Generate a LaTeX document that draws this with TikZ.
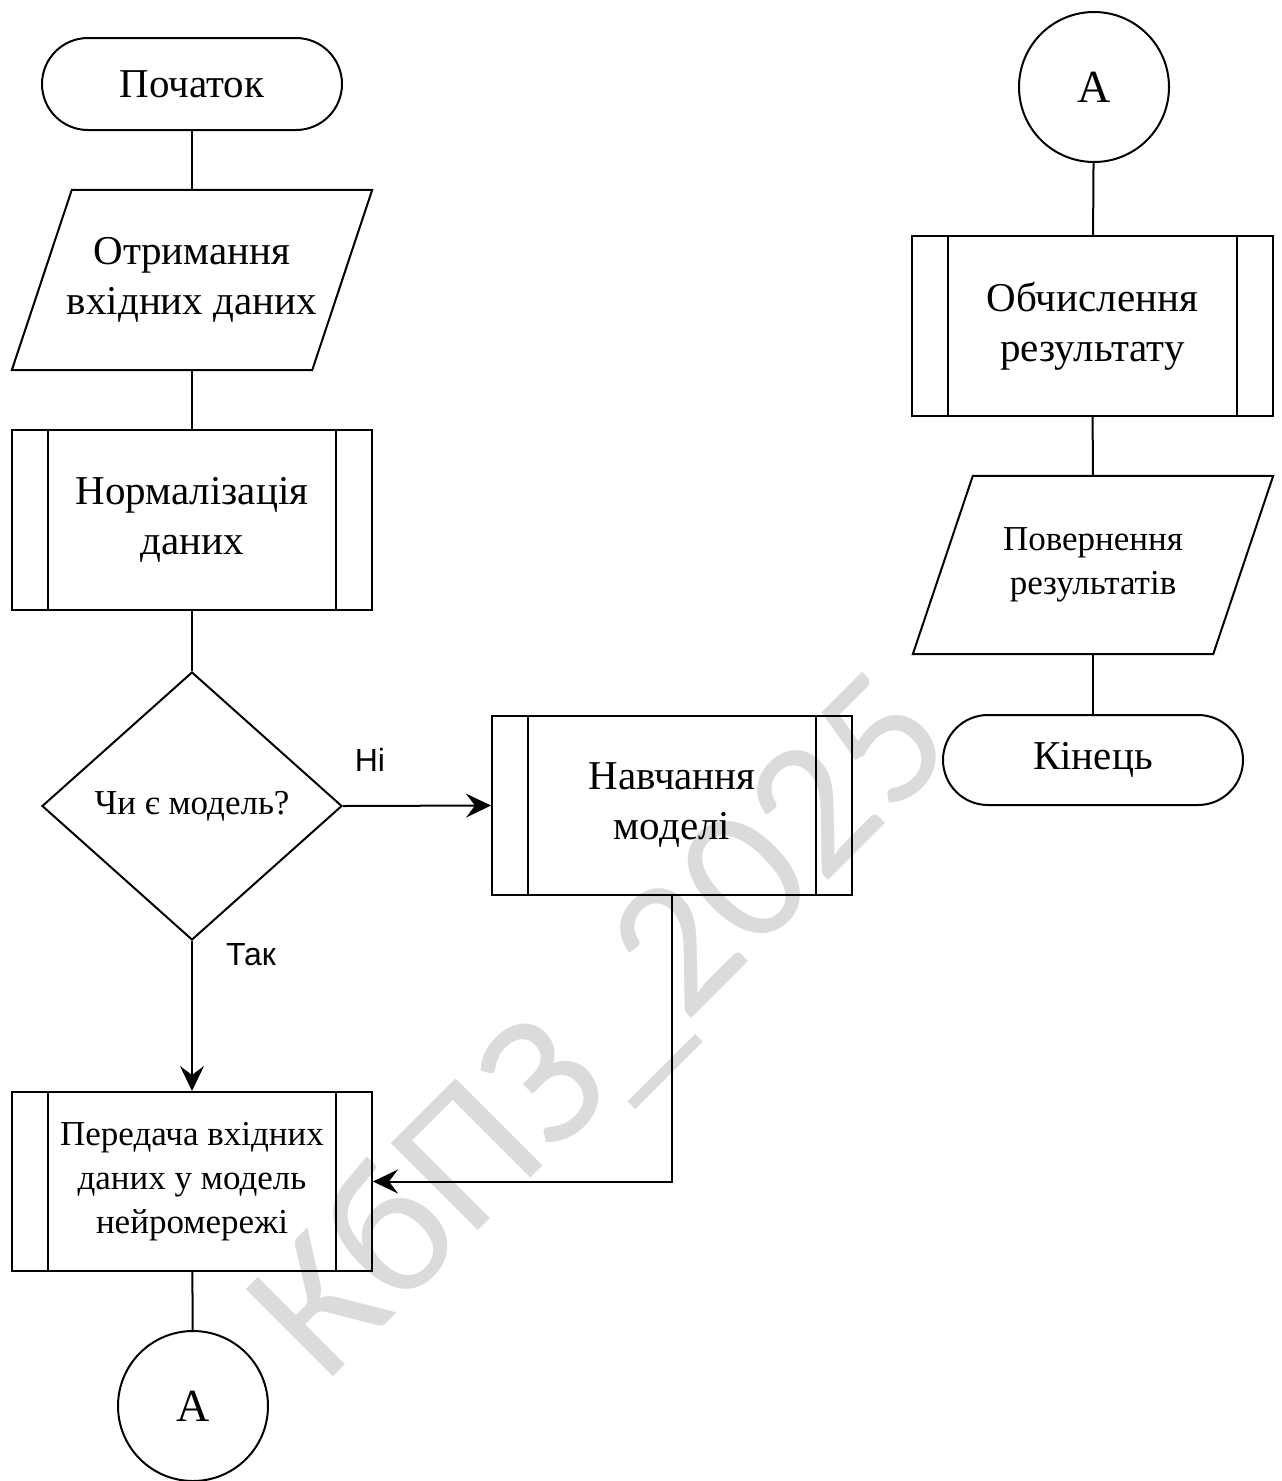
\documentclass[tikz,border=0pt]{standalone}
\usepackage{fontspec}
\setmainfont{Liberation Serif}
\newfontfamily\labelfont{Liberation Sans}
\newfontfamily\markfont{Carlito}
\usetikzlibrary{shapes.geometric,arrows.meta,calc}
\begin{document}
\begin{tikzpicture}[x=1pt,y=-1pt,
  every node/.style={align=center, inner sep=0pt},
  body/.style={font=\fontsize{41}{50}\selectfont},
  small/.style={font=\fontsize{35}{44}\selectfont},
  shapeline/.style={draw=black, line width=2pt},
  terminal/.style={shapeline, rectangle, rounded corners=46pt,
    minimum width=300pt, minimum height=92pt, body},
  subproc/.style={shapeline, rectangle, minimum width=360pt, minimum height=180pt,
    path picture={\draw[line width=2pt]
      ([xshift=36pt]path picture bounding box.north west) -- ([xshift=36pt]path picture bounding box.south west)
      ([xshift=-36pt]path picture bounding box.north east) -- ([xshift=-36pt]path picture bounding box.south east);}},
  % data box: text area of the parallelogram, outline drawn from its corners
  io/.style={rectangle, minimum width=300pt, minimum height=180pt},
  decision/.style={shapeline, diamond, minimum width=300pt, minimum height=268pt, small},
  connector/.style={shapeline, circle, minimum size=150pt, font=\fontsize{46}{46}\selectfont},
  flow/.style={line width=2pt},
  flowarrow/.style={flow, -{Stealth[length=25pt,width=24pt,inset=9pt]}},
  branch/.style={font=\labelfont\fontsize{32}{32}\selectfont},
  watermark/.style={rotate=45, text=black!14, font=\markfont\fontsize{192}{192}\selectfont}
]
\useasboundingbox (0,0) rectangle (1282,1481);

% watermark behind everything
\node[watermark] (wm) at (605,1030) {КбПЗ\_2025};

% left column
\node[terminal] (start) at (192,84) {Початок};
\node[io, body] (input) at (192,280) {Отримання\\вхідних даних};
\node[subproc, body] (norm) at (192,520) {Нормалізація\\даних};
\node[decision] (check) at (192,806) {Чи є модель?};
\node[subproc, small, minimum height=179pt] (feed) at (192,1181.5) {Передача вхідних\\даних у модель\\нейромережі};
\node[connector] (outA) at (193,1406) {A};

% training branch
\node[subproc, body, minimum height=179pt] (train) at (672,805.5) {Навчання\\моделі};

% right column
\node[connector] (inA) at (1094,87) {A};
\node[subproc, body, minimum width=361pt] (calc) at (1092.5,326) {Обчислення\\результату};
\node[io, small, minimum height=178pt] (output) at (1093,565) {Повернення\\результатів};
\node[terminal, minimum height=90pt, rounded corners=45pt] (stop) at (1093,760) {Кінець};

% parallelogram outlines of the data boxes
\foreach \n in {input,output}
  \draw[shapeline] ([xshift=30pt]\n.north west) -- ([xshift=30pt]\n.north east)
    -- ([xshift=-30pt]\n.south east) -- ([xshift=-30pt]\n.south west) -- cycle;

% connectors
\draw[flow] (start) -- (input);
\draw[flow] (input) -- (norm);
\draw[flow] (norm) -- (check);
\draw[flowarrow] (check.east) -- (train.west);
\draw[flowarrow] (check.south) -- (feed.north);
\draw[flowarrow] (train.south) |- (feed.east);
\draw[flow] (feed) -- (outA);

\draw[flow] (inA) -- (calc);
\draw[flow] (calc) -- (output);
\draw[flow] (output) -- (stop);

% branch labels
\node[branch] (no) at (370,760) {Ні};
\node[branch] (yes) at (251,955) {Так};
\end{tikzpicture}
\end{document}
